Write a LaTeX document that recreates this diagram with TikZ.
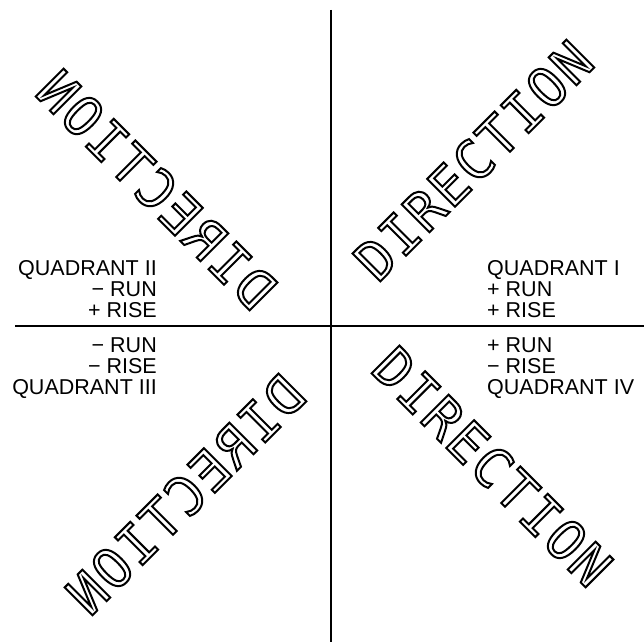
\documentclass[tikz,border=0pt]{standalone}
\usepackage{fontspec}
\setmainfont{Liberation Sans}
\newfontfamily\dirfont[LetterSpace=4]{DejaVu Sans Mono}
\newcommand\outlinetext[1]{\special{pdf:code 1 Tr 2.0 w}#1\special{pdf:code 0 Tr}}
\begin{document}
\begin{tikzpicture}[x=1pt,y=-1pt]
\tikzset{
  axisline/.style={line width=2.6pt},
  dirword/.style={inner sep=0pt, font=\dirfont\fontsize{54}{54}\selectfont},
  lab/.style={inner sep=0pt, font=\fontsize{21.5}{21.5}\selectfont}
}
\useasboundingbox (0,0) rectangle (644,642);
\fill[white] (0,0) rectangle (644,642);
% axes
\coordinate (vt) at (331,10);
\coordinate (vb) at (331,642);
\coordinate (hl) at (15,326);
\coordinate (hr) at (644,326);
\draw[axisline] (vt) -- (vb);
\draw[axisline] (hl) -- (hr);
% quadrant I labels
\node[lab, anchor=base west] (q1a) at (487,275) {QUADRANT I};
\node[lab, anchor=base west] (q1b) at (487,296.5) {+ RUN};
\node[lab, anchor=base west] (q1c) at (487,317) {+ RISE};
% quadrant II labels
\node[lab, anchor=base east] (q2a) at (157,275) {QUADRANT II};
\node[lab, anchor=base east] (q2b) at (157,296.5) {− RUN};
\node[lab, anchor=base east] (q2c) at (157,317) {+ RISE};
% quadrant III labels
\node[lab, anchor=base east] (q3a) at (157,352) {− RUN};
\node[lab, anchor=base east] (q3b) at (157,373) {− RISE};
\node[lab, anchor=base east] (q3c) at (157,394) {QUADRANT III};
% quadrant IV labels
\node[lab, anchor=base west] (q4a) at (487,352) {+ RUN};
\node[lab, anchor=base west] (q4b) at (487,373) {− RISE};
\node[lab, anchor=base west] (q4c) at (487,394) {QUADRANT IV};
% DIRECTION words
\node[dirword, rotate=45] (d1) at (473.5,160.5) {\outlinetext{DIRECTION}};
\node[dirword, xscale=-1, rotate=45] (d2) at (156.5,189.5) {\outlinetext{DIRECTION}};
\node[dirword, xscale=-1, rotate=-45] (d3) at (185.5,494.5) {\outlinetext{DIRECTION}};
\node[dirword, rotate=-45] (d4) at (492.5,466.5) {\outlinetext{DIRECTION}};
\end{tikzpicture}
\end{document}
